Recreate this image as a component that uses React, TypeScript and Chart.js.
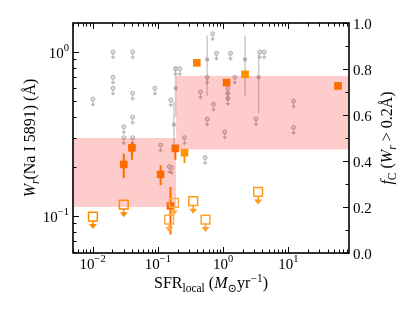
import React, { useEffect, useRef } from 'react';
import { Chart, registerables } from 'chart.js';
Chart.register(...registerables);

// ---------- axis ranges ----------
const X_MIN = 0.005;
const X_MAX = 85;
const W_MIN = 0.0594;
const W_MAX = 1.5;
const FC_TICKS = [0.0, 0.2, 0.4, 0.6, 0.8, 1.0];
const X_LABEL_EXPS = [-2, -1, 0, 1];
const Y_LABEL_EXPS = [-1, 0];

// ---------- orange detections ----------
const detX = [0.030, 0.040, 0.11, 0.156, 0.185, 0.256, 0.395, 1.13, 2.17, 57.7];
const detW = [0.206, 0.26, 0.179, 0.115, 0.258, 0.243, 0.857, 0.65, 0.73, 0.62];
const detLo = [0.17, 0.22, 0.154, 0.077, 0.22, 0.21, 0.857, 0.65, 0.73, 0.62];
const detHi = [0.24, 0.283, 0.204, 0.15, 0.27, 0.245, 0.857, 0.65, 0.73, 0.62];

// ---------- orange upper limits ----------
const ulX = [0.0101, 0.030, 0.149, 0.176, 0.348, 0.537, 3.44];
const ulW = [0.099, 0.117, 0.095, 0.12, 0.123, 0.095, 0.14];

// ---------- gray upper limits ----------
const grayUlX = [0.0205, 0.041, 0.0205, 0.0205, 0.041, 0.09, 0.0101, 0.158, 0.041, 0.030, 0.030, 0.041,
  0.187, 0.217, 0.69, 0.79, 1.30, 3.65, 4.25, 1.51, 1.18, 1.18, 1.18, 0.45, 0.71, 0.57, 0.57, 1.06,
  0.256, 3.2, 12, 12, 0.11, 0.15, 0.163, 0.53];
const grayUlW = [1.0, 1.0, 0.70, 0.60, 0.56, 0.60, 0.515, 0.51, 0.40, 0.35, 0.30, 0.30,
  0.79, 0.79, 1.29, 0.98, 0.98, 1.0, 1.0, 0.70, 0.60, 0.56, 0.52, 0.57, 0.48, 0.39, 0.70, 0.325,
  0.30, 0.39, 0.50, 0.346, 0.27, 0.20, 0.197, 0.227];

// ---------- gray detections ----------
const grayDetX = [0.176, 0.187, 0.57, 2.17, 3.5];
const grayDetW = [0.36, 0.60, 0.90, 0.90, 0.70];
const grayDetLo = [0.27, 0.40, 0.54, 0.54, 0.42];
const grayDetHi = [0.50, 0.82, 1.26, 1.26, 0.98];

// ---------- covering-fraction boxes (right axis) ----------
const boxX0 = [0.005, 0.19];
const boxX1 = [0.19, 85];
const boxLo = [0.20, 0.45];
const boxHi = [0.50, 0.77];

// ---------- styles ----------
const DET_COLORS = ['#ff6a00', '#ff6a00', '#ff6a00', '#ff6a00', '#ff6a00', '#ff9600', '#ff7e00', '#ff6a00', '#ff9000', '#ff6a00'];
const UL_COLORS = ['#ff8c00', '#ff8c00', '#ffab45', '#ffab45', '#ff9a1a', '#ffa030', '#ff9a1a'];
const FONT = '"Liberation Serif", "DejaVu Serif", serif';

type Seg = { t: string; size: number; italic?: boolean; dy?: number };
const fontOf = (s: Seg) => `${s.italic ? 'italic ' : ''}${s.size}px ${FONT}`;

function drawRich(ctx: CanvasRenderingContext2D, segs: Seg[], x: number, y: number, align: 'left' | 'center' | 'right') {
  let total = 0;
  const widths = segs.map((s) => {
    ctx.font = fontOf(s);
    const w = ctx.measureText(s.t).width;
    total += w;
    return w;
  });
  let cx = align === 'left' ? x : align === 'center' ? x - total / 2 : x - total;
  segs.forEach((s, i) => {
    ctx.font = fontOf(s);
    ctx.fillText(s.t, cx, y + (s.dy || 0));
    cx += widths[i];
  });
}

function logTicks(min: number, max: number) {
  const out: { v: number; major: boolean }[] = [];
  for (let d = Math.floor(Math.log10(min)); d <= Math.ceil(Math.log10(max)); d++) {
    for (let m = 1; m <= 9; m++) {
      const v = m * Math.pow(10, d);
      if (v >= min * 0.9999 && v <= max * 1.0001) out.push({ v, major: m === 1 });
    }
  }
  return out;
}

const expLabel = (e: number): Seg[] => [
  { t: '10', size: 15 },
  { t: e < 0 ? '\u2212' + -e : String(e), size: 10.5, dy: -6.5 },
];

const decor = {
  id: 'decor',
  beforeDatasetDraw(chart: any, args: any) {
    const ctx = chart.ctx as CanvasRenderingContext2D;
    const xs = chart.scales.x, ys = chart.scales.y, fs = chart.scales.y2;
    if (args.index === 1) {
      ctx.save();
      ctx.strokeStyle = 'rgba(165,165,165,0.55)';
      ctx.lineWidth = 1.6;
      grayDetX.forEach((x, i) => {
        const px = xs.getPixelForValue(x);
        ctx.beginPath();
        ctx.moveTo(px, ys.getPixelForValue(grayDetLo[i]));
        ctx.lineTo(px, ys.getPixelForValue(grayDetHi[i]));
        ctx.stroke();
      });
      ctx.restore();
    }
    if (args.index === 2) {
      ctx.save();
      ctx.fillStyle = 'rgba(255,0,0,0.2)';
      boxX0.forEach((x0, i) => {
        const l = Math.max(xs.getPixelForValue(x0), chart.chartArea.left);
        const r = Math.min(xs.getPixelForValue(boxX1[i]), chart.chartArea.right);
        const t = fs.getPixelForValue(boxHi[i]);
        const b = fs.getPixelForValue(boxLo[i]);
        ctx.fillRect(l, t, r - l, b - t);
      });
      ctx.lineWidth = 2;
      detX.forEach((x, i) => {
        if (detHi[i] === detLo[i]) return;
        const px = xs.getPixelForValue(x);
        ctx.strokeStyle = DET_COLORS[i];
        ctx.beginPath();
        ctx.moveTo(px, ys.getPixelForValue(detLo[i]));
        ctx.lineTo(px, ys.getPixelForValue(detHi[i]));
        ctx.stroke();
      });
      ctx.restore();
    }
  },
  afterDatasetDraw(chart: any, args: any) {
    const ctx = chart.ctx as CanvasRenderingContext2D;
    const xs = chart.scales.x, ys = chart.scales.y;
    if (args.index === 0) {
      ctx.save();
      ctx.strokeStyle = 'rgba(160,160,160,0.75)';
      ctx.fillStyle = 'rgba(160,160,160,0.75)';
      ctx.lineWidth = 1;
      grayUlX.forEach((x, i) => {
        const px = xs.getPixelForValue(x);
        const py = ys.getPixelForValue(grayUlW[i]);
        ctx.beginPath();
        ctx.moveTo(px, py + 2);
        ctx.lineTo(px, py + 5);
        ctx.stroke();
        ctx.beginPath();
        ctx.moveTo(px - 2.5, py + 4.5);
        ctx.lineTo(px + 2.5, py + 4.5);
        ctx.lineTo(px, py + 7.5);
        ctx.closePath();
        ctx.fill();
      });
      ctx.restore();
    }
    if (args.index === 3) {
      ctx.save();
      ctx.lineWidth = 1.6;
      ulX.forEach((x, i) => {
        const px = xs.getPixelForValue(x);
        const py = ys.getPixelForValue(ulW[i]) + 4.5;
        ctx.strokeStyle = UL_COLORS[i];
        ctx.fillStyle = UL_COLORS[i];
        ctx.beginPath();
        ctx.moveTo(px, py);
        ctx.lineTo(px, py + 4);
        ctx.stroke();
        ctx.beginPath();
        ctx.moveTo(px - 4, py + 3);
        ctx.lineTo(px + 4, py + 3);
        ctx.lineTo(px, py + 8);
        ctx.closePath();
        ctx.fill();
      });
      ctx.restore();
    }
  },
  afterDraw(chart: any) {
    const ctx = chart.ctx as CanvasRenderingContext2D;
    const { left, right, top, bottom } = chart.chartArea;
    const xs = chart.scales.x, ys = chart.scales.y, fs = chart.scales.y2;
    ctx.save();
    ctx.strokeStyle = '#000';
    ctx.fillStyle = '#000';
    // ticks
    ctx.lineWidth = 1;
    const MAJ = 6, MIN = 3.5;
    logTicks(X_MIN, X_MAX).forEach((t) => {
      const px = Math.round(xs.getPixelForValue(t.v)) + 0.5;
      const L = t.major ? MAJ : MIN;
      ctx.beginPath();
      ctx.moveTo(px, bottom); ctx.lineTo(px, bottom - L);
      ctx.moveTo(px, top); ctx.lineTo(px, top + L);
      ctx.stroke();
    });
    logTicks(W_MIN, W_MAX).forEach((t) => {
      const py = Math.round(ys.getPixelForValue(t.v)) + 0.5;
      const L = t.major ? MAJ : MIN;
      ctx.beginPath();
      ctx.moveTo(left, py); ctx.lineTo(left + L, py);
      ctx.stroke();
    });
    for (let k = 0; k <= 10; k++) {
      const v = k / 10;
      const py = Math.round(fs.getPixelForValue(v)) + 0.5;
      const L = k % 2 === 0 ? MAJ : MIN;
      ctx.beginPath();
      ctx.moveTo(right, py); ctx.lineTo(right - L, py);
      ctx.stroke();
    }
    // frame
    ctx.lineWidth = 1.6;
    ctx.strokeRect(left, top, right - left, bottom - top);
    // tick labels
    ctx.textBaseline = 'alphabetic';
    X_LABEL_EXPS.forEach((e) => {
      drawRich(ctx, expLabel(e), xs.getPixelForValue(Math.pow(10, e)), bottom + 15.5, 'center');
    });
    Y_LABEL_EXPS.forEach((e) => {
      drawRich(ctx, expLabel(e), left - 4, ys.getPixelForValue(Math.pow(10, e)) + 6, 'right');
    });
    FC_TICKS.forEach((v) => {
      drawRich(ctx, [{ t: v.toFixed(1), size: 15 }], right + 4, fs.getPixelForValue(v) + 5.5, 'left');
    });
    // axis titles
    drawRich(ctx, [
      { t: 'SFR', size: 16 },
      { t: 'local', size: 11.5, dy: 3.5 },
      { t: ' (', size: 16 },
      { t: 'M', size: 16, italic: true },
      { t: '\u2299', size: 11.5, dy: 3.5 },
      { t: 'yr', size: 16 },
      { t: '\u22121', size: 11.5, dy: -6.5 },
      { t: ')', size: 16 },
    ], (left + right) / 2, bottom + 35, 'center');

    ctx.save();
    ctx.translate(35, (top + bottom) / 2);
    ctx.rotate(-Math.PI / 2);
    drawRich(ctx, [
      { t: 'W', size: 16, italic: true },
      { t: 'r', size: 11.5, italic: true, dy: 3.5 },
      { t: '(Na I 5891) (\u00c5)', size: 16 },
    ], 0, 0, 'center');
    ctx.restore();

    ctx.save();
    ctx.translate(392, (top + bottom) / 2);
    ctx.rotate(-Math.PI / 2);
    drawRich(ctx, [
      { t: 'f', size: 16, italic: true },
      { t: 'C', size: 11.5, dy: 3.5 },
      { t: ' (', size: 16 },
      { t: 'W', size: 16, italic: true },
      { t: 'r', size: 11.5, italic: true, dy: 3.5 },
      { t: ' > 0.2\u00c5)', size: 16 },
    ], 0, 0, 'center');
    ctx.restore();
    ctx.restore();
  },
};

export default function App() {
  const ref = useRef<HTMLCanvasElement>(null);
  useEffect(() => {
    document.body.style.margin = '0';
    const hidden = { display: false };
    const chart = new Chart(ref.current!, {
      type: 'scatter',
      data: {
        datasets: [
          {
            data: grayUlX.map((x, i) => ({ x, y: grayUlW[i] })),
            pointStyle: 'circle',
            radius: 2,
            backgroundColor: 'rgba(215,215,215,0.8)',
            borderColor: 'rgba(160,160,160,0.8)',
            borderWidth: 1,
            order: 4,
          },
          {
            data: grayDetX.map((x, i) => ({ x, y: grayDetW[i] })),
            pointStyle: 'rect',
            radius: 2.6,
            backgroundColor: 'rgba(150,150,150,0.7)',
            borderWidth: 0,
            order: 3,
          },
          {
            data: detX.map((x, i) => ({ x, y: detW[i] })),
            pointStyle: 'rect',
            radius: 5.4,
            backgroundColor: DET_COLORS,
            borderWidth: 0,
            order: 1,
          },
          {
            data: ulX.map((x, i) => ({ x, y: ulW[i] })),
            pointStyle: 'rect',
            radius: 6.2,
            backgroundColor: 'rgba(0,0,0,0)',
            borderColor: UL_COLORS,
            borderWidth: 1.5,
            order: 0,
          },
        ] as any,
      },
      options: {
        animation: false,
        responsive: false,
        events: [],
        layout: { padding: { top: 23, left: 0, right: 0, bottom: 0 } },
        plugins: { legend: hidden, tooltip: { enabled: false } },
        scales: {
          x: {
            type: 'logarithmic', min: X_MIN, max: X_MAX, position: 'bottom',
            grid: hidden, border: hidden, ticks: hidden,
            afterFit: (s: any) => { s.height = 58; },
          },
          y: {
            type: 'logarithmic', min: W_MIN, max: W_MAX, position: 'left',
            grid: hidden, border: hidden, ticks: hidden,
            afterFit: (s: any) => { s.width = 73; },
          },
          y2: {
            type: 'linear', min: 0, max: 1, position: 'right',
            grid: hidden, border: hidden, ticks: hidden,
            afterFit: (s: any) => { s.width = 66; },
          },
        } as any,
      },
      plugins: [decor],
    });
    return () => chart.destroy();
  }, []);
  return (
    <div style={{ position: 'fixed', left: 0, top: 0, width: 415, height: 311 }}>
      <canvas ref={ref} width={415} height={311} style={{ width: 415, height: 311, display: 'block' }} />
    </div>
  );
}
